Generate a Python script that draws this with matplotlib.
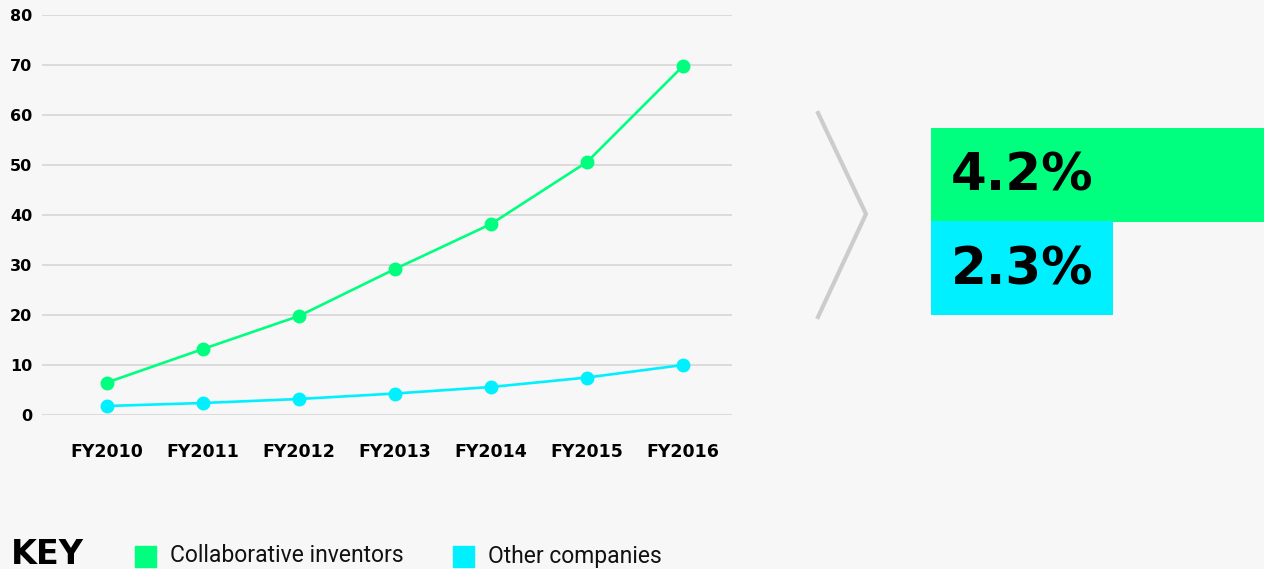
import matplotlib.pyplot as plt
from matplotlib.patches import Rectangle

years = ['FY2010', 'FY2011', 'FY2012', 'FY2013', 'FY2014', 'FY2015', 'FY2016']
collab = [6.5, 13.2, 19.8, 29.2, 38.2, 50.6, 69.8]
others = [1.8, 2.4, 3.2, 4.3, 5.6, 7.5, 10.0]
growth_labels = ['4.2%', '2.3%']
growth = [4.2, 2.3]
key_labels = ['Collaborative inventors', 'Other companies']

GREEN = '#00ff7f'
CYAN = '#00f0ff'
BG = '#f7f7f7'
W, H = 1264, 569

fig = plt.figure(figsize=(W / 100, H / 100), dpi=100, facecolor=BG)

# line chart
ax = fig.add_axes([42 / W, 1 - 415 / H, (732 - 42) / W, 400 / H], facecolor=BG)
x = list(range(len(years)))
ax.plot(x, collab, color=GREEN, lw=1.9, marker='o', ms=9, clip_on=False, zorder=3)
ax.plot(x, others, color=CYAN, lw=1.9, marker='o', ms=9, clip_on=False, zorder=3)
ax.set_xlim(-0.677, 6.51)
ax.set_ylim(0, 80)
ax.set_yticks(range(0, 81, 10))
ax.set_xticks(x)
ax.set_xticklabels(years)
ax.grid(axis='y', color='#d6d6d6', lw=1.2)
ax.set_axisbelow(True)
for s in ax.spines.values():
    s.set_visible(False)
ax.tick_params(length=0)
ax.tick_params(axis='y', pad=7, labelsize=11.5)
ax.tick_params(axis='x', pad=20, labelsize=12.5)
for lab in ax.get_xticklabels() + ax.get_yticklabels():
    lab.set_fontfamily('DejaVu Sans')
    lab.set_fontweight('bold')

# chevron
fig.add_artist(plt.Line2D([818 / W, 866 / W, 818 / W],
                          [1 - 113 / H, 1 - 214 / H, 1 - 317 / H],
                          color='#cccccc', lw=3))

# growth bars
bx = fig.add_axes([931 / W, 1 - 315 / H, (W - 931) / W, (315 - 128) / H])
bx.set_facecolor('none')
bx.barh([1, 0], growth, height=1.0, color=[GREEN, CYAN])
bx.set_xlim(0, max(growth))
bx.set_ylim(-0.5, 1.5)
bx.axis('off')
for i, t in enumerate(growth_labels):
    bx.text(0.25, 1 - i - 0.02, t, fontsize=37, fontfamily='DejaVu Sans',
            fontweight='bold', va='center', ha='left')

# key
fig.text(11 / W, 1 - 555 / H, 'KEY', fontsize=24, fontfamily='DejaVu Sans',
         fontweight='bold', va='center', ha='left')
for px, col, lab in [(135, GREEN, key_labels[0]), (453, CYAN, key_labels[1])]:
    fig.add_artist(Rectangle((px / W, 1 - 567 / H), 21 / W, 21 / H,
                             color=col, transform=fig.transFigure))
    fig.text((px + 35) / W, 1 - 556 / H, lab, fontsize=16.5, fontfamily='Roboto',
             va='center', ha='left', color='#111111')

fig.savefig('out.png', dpi=100, facecolor=BG)
